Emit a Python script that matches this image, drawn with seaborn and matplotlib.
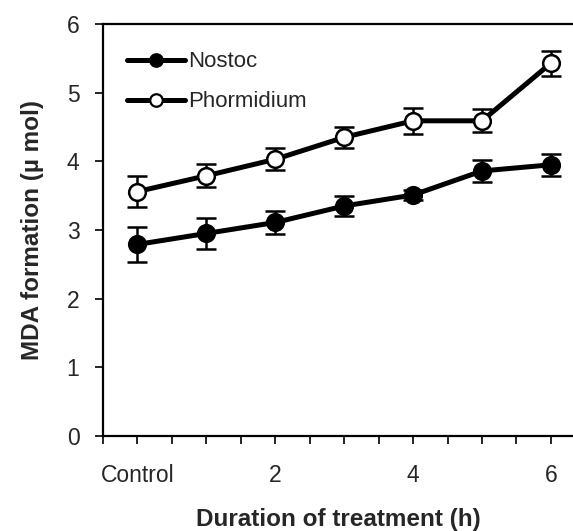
import numpy as np
import pandas as pd
import matplotlib
matplotlib.use("Agg")
import matplotlib.pyplot as plt
from matplotlib.lines import Line2D
import seaborn as sns

# Treatment duration (h); 0 is the untreated control
hours = [0, 1, 2, 3, 4, 5, 6]
nostoc = [2.79, 2.95, 3.11, 3.35, 3.51, 3.86, 3.95]
nostoc_err = [0.26, 0.22, 0.17, 0.15, 0.07, 0.16, 0.16]
phormidium = [3.56, 3.79, 4.03, 4.35, 4.59, 4.59, 5.43]
phormidium_err = [0.22, 0.17, 0.16, 0.15, 0.19, 0.17, 0.18]

x_ticks = [-0.5, 0, 0.5, 1, 1.5, 2, 2.5, 3, 3.5, 4, 4.5, 5, 5.5, 6]
x_tick_labels = ["", "Control", "", "", "", "2", "", "", "", "4", "", "", "", "6"]
y_ticks = [0, 1, 2, 3, 4, 5, 6]

sns.set_style("ticks")
plt.rcParams["font.family"] = ["Liberation Sans", "DejaVu Sans"]

df = pd.DataFrame({
    "hours": hours * 2,
    "mda": nostoc + phormidium,
    "err": nostoc_err + phormidium_err,
    "species": ["Nostoc"] * len(hours) + ["Phormidium"] * len(hours),
})

fig = plt.figure(figsize=(5.73, 5.31), dpi=100)
ax = fig.add_axes([0.1798, 0.1789, 0.8202, 0.7759])

styles = {"Nostoc": "black", "Phormidium": "white"}
for name, face in styles.items():
    sub = df[df["species"] == name]
    ax.errorbar(sub["hours"], sub["mda"], yerr=sub["err"], fmt="none",
                ecolor="black", elinewidth=1.8, capsize=7, capthick=1.8, zorder=2)
    sns.lineplot(data=sub, x="hours", y="mda", ax=ax, color="black",
                 linewidth=3.6, marker="o", markersize=12,
                 markerfacecolor=face, markeredgecolor="black",
                 markeredgewidth=1.8, zorder=3, legend=False)

ax.set_xlim(-0.5, 6.32)
ax.set_ylim(0, 6)
ax.set_xticks(x_ticks)
ax.set_xticklabels(x_tick_labels)
ax.set_yticks(y_ticks)
ax.tick_params(axis="both", direction="out", length=6, width=1.2,
               labelsize=16.5, color="black")
ax.tick_params(axis="x", pad=14)
ax.tick_params(axis="y", pad=11)

for side in ["left", "bottom", "top"]:
    ax.spines[side].set_linewidth(1.6)
    ax.spines[side].set_color("black")
ax.spines["right"].set_visible(False)

ax.set_xlabel("Duration of treatment (h)", fontsize=17.5, fontweight="bold",
              labelpad=15)
ax.set_ylabel("MDA formation (\u00b5 mol)", fontsize=17.5, fontweight="bold",
              labelpad=16)

handles = [
    Line2D([], [], color="black", linewidth=3.6, marker="o", markersize=9,
           markerfacecolor=styles[n], markeredgecolor="black",
           markeredgewidth=1.6)
    for n in styles
]
ax.legend(handles, list(styles), loc="upper left", frameon=False,
          fontsize=16, handlelength=2.6, handletextpad=0.15,
          labelspacing=0.85, borderaxespad=0.0,
          bbox_to_anchor=(0.032, 0.955))

fig.savefig("out.png", dpi=100)
